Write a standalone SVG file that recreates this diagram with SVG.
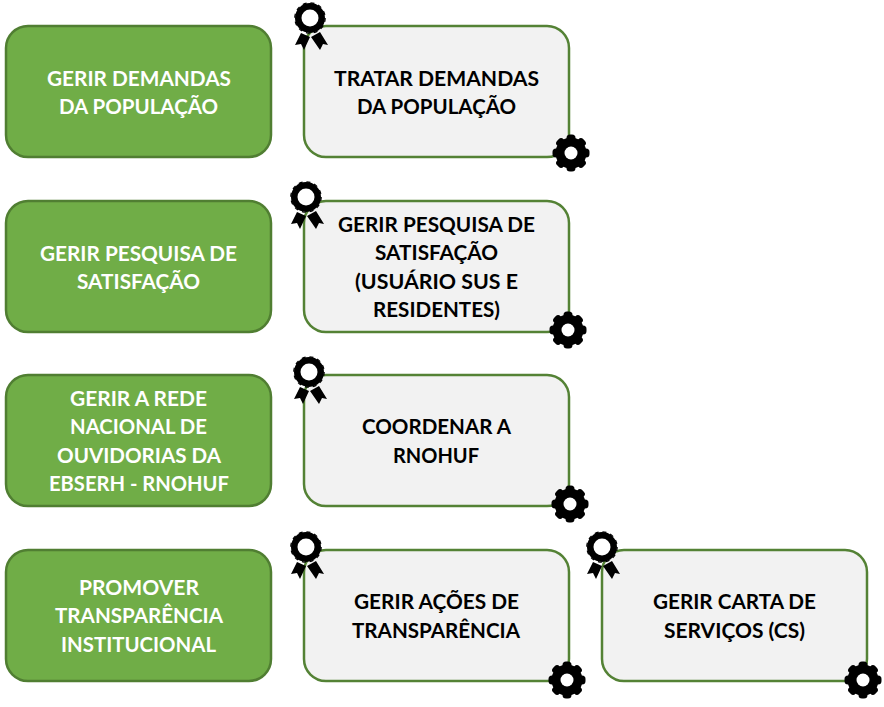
<svg xmlns="http://www.w3.org/2000/svg" width="884" height="707" viewBox="0 0 884 707">
<style>
.g{fill:#70ad47;stroke:#507e32;stroke-width:2.5}
.p{fill:#f2f2f2;stroke:#548235;stroke-width:2.5}
text{font-family:Lato,"Open Sans","Liberation Sans",sans-serif;font-weight:700;font-size:20px;text-anchor:middle}
.w{fill:#fff}.k{fill:#000}
</style>
<defs>
<g id="ribbon">
<path fill="#000" d="M-9 15L-15 27L-9 26L-6 32L0 19ZM1 19L10 32L13 26L18 27L10 14Z"/>
<circle r="15" fill="#000"/>
<circle r="15.200" fill="none" stroke="#000" stroke-width="1.200" stroke-dasharray="4 3.960"/>
<circle r="8.500" fill="#fff"/>
</g>
<g id="gear">
<circle r="15.500" fill="#000"/>
<g fill="#000"><rect x="-4.500" y="-18.500" width="9" height="37" rx="3.500"/><rect x="-4.500" y="-18.500" width="9" height="37" rx="3.500" transform="rotate(45)"/><rect x="-4.500" y="-18.500" width="9" height="37" rx="3.500" transform="rotate(90)"/><rect x="-4.500" y="-18.500" width="9" height="37" rx="3.500" transform="rotate(135)"/></g>
<circle r="6.500" fill="#fff"/>
</g>
</defs>
<g id="connectors"/>
<g id="n1"><rect class="g" x="6" y="26" width="265" height="131" rx="22"/><text class="w" x="139" y="86" textLength="184" lengthAdjust="spacingAndGlyphs">GERIR DEMANDAS</text><text class="w" x="138.500" y="114" textLength="159" lengthAdjust="spacingAndGlyphs">DA POPULAÇÃO</text></g>
<g id="n2"><rect class="p" x="304" y="26" width="265" height="131" rx="22"/><text class="k" x="436.500" y="86" textLength="205" lengthAdjust="spacingAndGlyphs">TRATAR DEMANDAS</text><text class="k" x="436.500" y="114" textLength="159" lengthAdjust="spacingAndGlyphs">DA POPULAÇÃO</text><use href="#ribbon" x="310" y="18"/><use href="#gear" x="571" y="153"/></g>
<g id="n3"><rect class="g" x="6" y="201" width="265" height="131" rx="22"/><text class="w" x="138.500" y="261" textLength="197" lengthAdjust="spacingAndGlyphs">GERIR PESQUISA DE</text><text class="w" x="138.500" y="289" textLength="123" lengthAdjust="spacingAndGlyphs">SATISFAÇÃO</text></g>
<g id="n4"><rect class="p" x="304" y="201" width="265" height="131" rx="22"/><text class="k" x="436.500" y="232" textLength="197" lengthAdjust="spacingAndGlyphs">GERIR PESQUISA DE</text><text class="k" x="436.500" y="260" textLength="123" lengthAdjust="spacingAndGlyphs">SATISFAÇÃO</text><text class="k" x="436.500" y="289" textLength="163" lengthAdjust="spacingAndGlyphs">(USUÁRIO SUS E</text><text class="k" x="436.500" y="317" textLength="127" lengthAdjust="spacingAndGlyphs">RESIDENTES)</text><use href="#ribbon" x="306" y="197"/><use href="#gear" x="568" y="330"/></g>
<g id="n5"><rect class="g" x="6" y="375" width="265" height="131" rx="22"/><text class="w" x="138.500" y="406" textLength="137" lengthAdjust="spacingAndGlyphs">GERIR A REDE</text><text class="w" x="138.500" y="434" textLength="137" lengthAdjust="spacingAndGlyphs">NACIONAL DE</text><text class="w" x="139" y="463" textLength="164" lengthAdjust="spacingAndGlyphs">OUVIDORIAS DA</text><text class="w" x="139" y="491" textLength="180" lengthAdjust="spacingAndGlyphs">EBSERH - RNOHUF</text></g>
<g id="n6"><rect class="p" x="304" y="375" width="265" height="131" rx="22"/><text class="k" x="436.500" y="434" textLength="149" lengthAdjust="spacingAndGlyphs">COORDENAR A</text><text class="k" x="436" y="463" textLength="86" lengthAdjust="spacingAndGlyphs">RNOHUF</text><use href="#ribbon" x="309" y="372"/><use href="#gear" x="570" y="504"/></g>
<g id="n7"><rect class="g" x="6" y="550" width="265" height="131" rx="22"/><text class="w" x="139" y="595" textLength="120" lengthAdjust="spacingAndGlyphs">PROMOVER</text><text class="w" x="139" y="623" textLength="168" lengthAdjust="spacingAndGlyphs">TRANSPARÊNCIA</text><text class="w" x="138.500" y="652" textLength="155" lengthAdjust="spacingAndGlyphs">INSTITUCIONAL</text></g>
<g id="n8"><rect class="p" x="304" y="550" width="265" height="131" rx="22"/><text class="k" x="436.500" y="609" textLength="165" lengthAdjust="spacingAndGlyphs">GERIR AÇÕES DE</text><text class="k" x="436" y="638" textLength="168" lengthAdjust="spacingAndGlyphs">TRANSPARÊNCIA</text><use href="#ribbon" x="306" y="547"/><use href="#gear" x="567" y="680"/></g>
<g id="n9"><rect class="p" x="602" y="550" width="265" height="131" rx="22"/><text class="k" x="734.500" y="609" textLength="163" lengthAdjust="spacingAndGlyphs">GERIR CARTA DE</text><text class="k" x="734.500" y="638" textLength="141" lengthAdjust="spacingAndGlyphs">SERVIÇOS (CS)</text><use href="#ribbon" x="602" y="547"/><use href="#gear" x="863" y="680"/></g>
</svg>
